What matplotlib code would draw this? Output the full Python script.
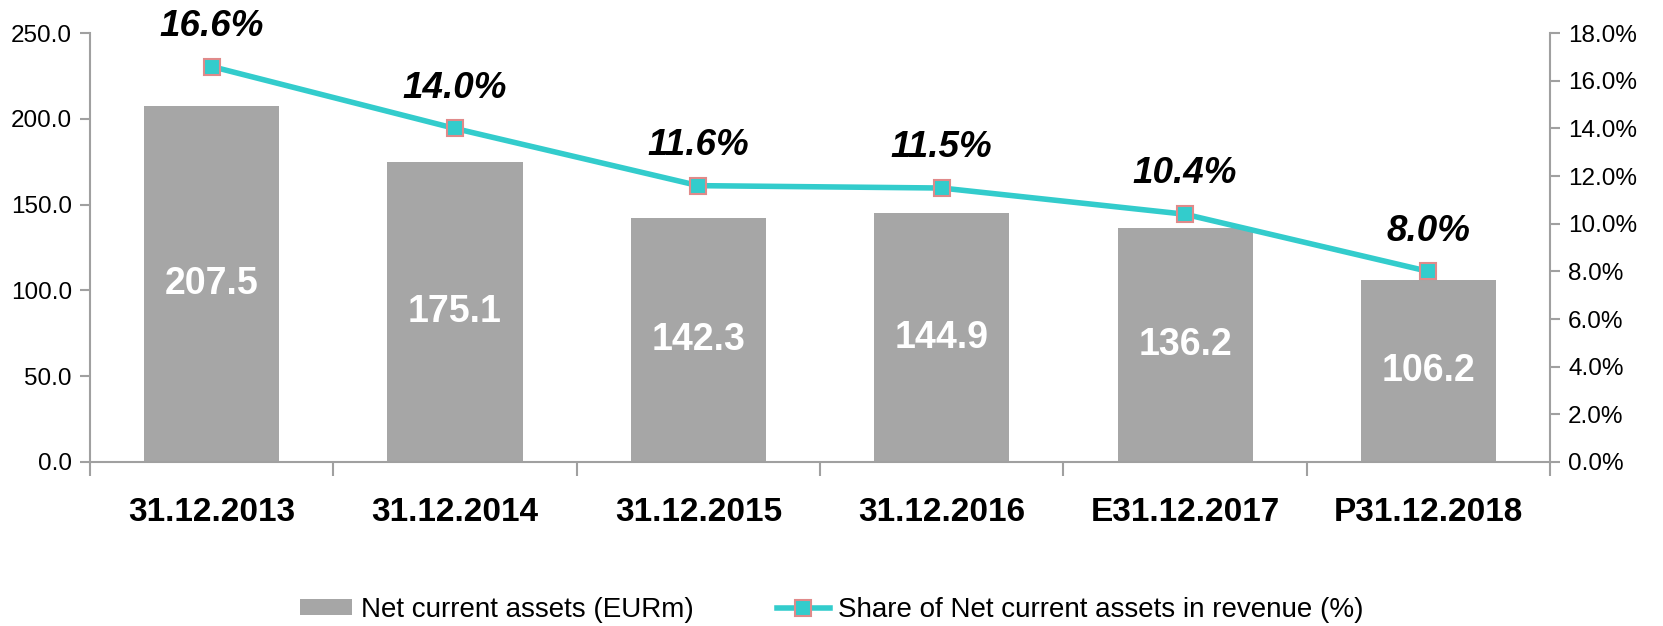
import numpy as np
import matplotlib
matplotlib.use("Agg")
import matplotlib.pyplot as plt
from matplotlib.ticker import FuncFormatter

plt.rcParams['font.family'] = ['Liberation Sans', 'DejaVu Sans']

categories = ['31.12.2013', '31.12.2014', '31.12.2015', '31.12.2016', 'E31.12.2017', 'P31.12.2018']
net_assets = [207.5, 175.1, 142.3, 144.9, 136.2, 106.2]
share_pct = [16.6, 14.0, 11.6, 11.5, 10.4, 8.0]

bar_color = '#A6A6A6'
line_color = '#33CCCC'
marker_edge = '#E08A8A'
axis_color = '#A0A0A0'

fig = plt.figure(figsize=(16.63, 6.26), dpi=100)
ax = fig.add_axes([0.0541, 0.262, 0.878, 0.685])
x = np.arange(len(categories))

ax.bar(x, net_assets, width=0.555, color=bar_color, label='Net current assets (EURm)', zorder=2)
for xi, v in zip(x, net_assets):
    ax.text(xi, v / 2, f'{v:.1f}', ha='center', va='center', color='white',
            fontsize=27, fontweight='bold', zorder=3)

ax.set_xlim(-0.5, len(categories) - 0.5)
ax.set_ylim(0, 250)
ax.set_yticks(np.arange(0, 251, 50))
ax.yaxis.set_major_formatter(FuncFormatter(lambda v, p: f'{v:.1f}'))

# category boundaries as major ticks, labels on minor ticks
ax.set_xticks(np.arange(-0.5, len(categories), 1.0))
ax.set_xticklabels([])
ax.set_xticks(x, minor=True)
ax.set_xticklabels(categories, minor=True, fontsize=24, fontweight='bold')
ax.tick_params(axis='x', which='major', length=10, color=axis_color, width=1.5)
ax.tick_params(axis='x', which='minor', length=0, pad=25)
ax.tick_params(axis='y', length=7, color=axis_color, width=1.5, labelsize=17.5, pad=6)

for s in ['top', 'right']:
    ax.spines[s].set_visible(False)
for s in ['left', 'bottom']:
    ax.spines[s].set_color(axis_color)
    ax.spines[s].set_linewidth(1.5)

ax2 = ax.twinx()
ax2.plot(x, share_pct, color=line_color, linewidth=4, marker='s', markersize=12,
         markerfacecolor=line_color, markeredgecolor=marker_edge, markeredgewidth=1.5,
         label='Share of Net current assets in revenue (%)', zorder=4)
for xi, v in zip(x, share_pct):
    ax2.annotate(f'{v:.1f}%', (xi, v), xytext=(0, 29), textcoords='offset points',
                 ha='center', va='center', fontsize=26.5, fontweight='bold', fontstyle='italic')
ax2.set_ylim(0, 18)
ax2.set_yticks(np.arange(0, 18.1, 2))
ax2.yaxis.set_major_formatter(FuncFormatter(lambda v, p: f'{v:.1f}%'))
ax2.tick_params(axis='y', length=7, color=axis_color, width=1.5, labelsize=17.5, pad=6)
for s in ['top', 'left', 'bottom']:
    ax2.spines[s].set_visible(False)
ax2.spines['right'].set_color(axis_color)
ax2.spines['right'].set_linewidth(1.5)

h1, l1 = ax.get_legend_handles_labels()
h2, l2 = ax2.get_legend_handles_labels()
fig.legend(h1 + h2, l1 + l2, loc='center', bbox_to_anchor=(0.5, 0.026), ncol=2,
           frameon=False, fontsize=20, handlelength=1.9, handleheight=0.5,
           handletextpad=0.3, columnspacing=3.0)

fig.savefig('out.png', dpi=100)
